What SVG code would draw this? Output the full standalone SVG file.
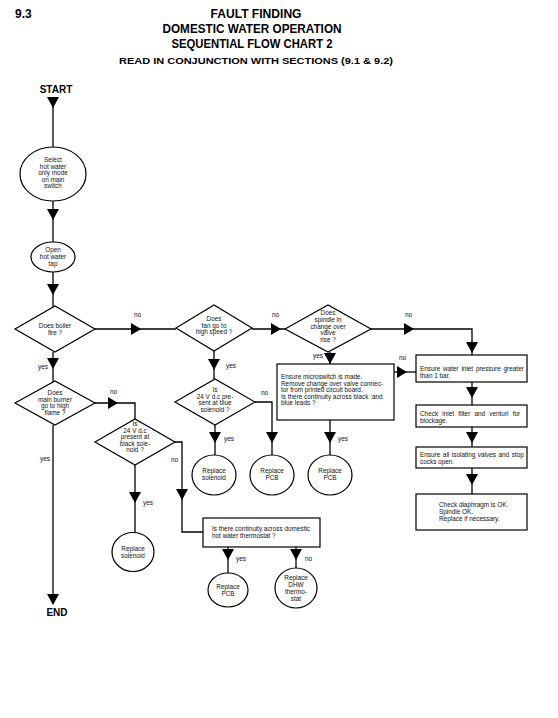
<svg xmlns="http://www.w3.org/2000/svg" width="558" height="718" viewBox="0 0 558 718">
<style>
.sh{fill:#fff;stroke:#000;stroke-width:1.2}
.ln{fill:none;stroke:#000;stroke-width:1.3}
.t{font-family:"Liberation Sans",Arial,sans-serif;font-size:6.4px;fill:#111}
.c{text-anchor:middle}
.lb{font-family:"Liberation Sans",Arial,sans-serif;font-size:6.5px;fill:#111}
.h{font-family:"Liberation Sans",Arial,sans-serif;font-weight:bold;fill:#000}
</style>
<defs>
<path id="ahD" d="M-6,0 L6,0 L0,11 Z" fill="#000"/>
<path id="ahR" d="M0,-6 L0,6 L10,0 Z" fill="#000"/>
</defs>
<rect width="558" height="718" fill="#fff"/>
<g id="title">
<text class="h" x="15" y="18" font-size="12">9.3</text>
<text class="h c" x="256" y="18" font-size="12" textLength="91" lengthAdjust="spacingAndGlyphs">FAULT FINDING</text>
<text class="h c" x="252" y="33" font-size="12" textLength="179" lengthAdjust="spacingAndGlyphs">DOMESTIC WATER OPERATION</text>
<text class="h c" x="252" y="48" font-size="12" textLength="161" lengthAdjust="spacingAndGlyphs">SEQUENTIAL FLOW CHART 2</text>
<text class="h c" x="256" y="64" font-size="9" textLength="274" lengthAdjust="spacingAndGlyphs">READ IN CONJUNCTION WITH SECTIONS (9.1 &amp; 9.2)</text>
</g>
<g id="connectors">
<polyline class="ln" points="53,97 53,147"/><use href="#ahD" x="53" y="97"/>
<polyline class="ln" points="53,201 53,242"/><use href="#ahD" x="53" y="209"/>
<polyline class="ln" points="53,272 53,307"/><use href="#ahD" x="53" y="284"/>
<polyline class="ln" points="53,352 53,382"/><use href="#ahD" x="53" y="358"/>
<text class="lb" x="38" y="369">yes</text>
<polyline class="ln" points="53,425 53,594"/><use href="#ahD" x="53" y="594"/>
<text class="lb" x="40" y="461">yes</text>
<polyline class="ln" points="95,403 135,403 135,419"/><use href="#ahR" x="108" y="403"/>
<text class="lb" x="110" y="394">no</text>
<polyline class="ln" points="135,465 135,533"/><use href="#ahD" x="135" y="492"/>
<text class="lb" x="143" y="505">yes</text>
<polyline class="ln" points="175,442 182,442 182,532 203,532"/><use href="#ahD" x="182" y="489"/>
<text class="lb" x="171" y="462">no</text>
<polyline class="ln" points="95,329 176,329"/><use href="#ahR" x="131" y="329"/>
<text class="lb" x="134" y="317">no</text>
<polyline class="ln" points="252,329 285,329"/><use href="#ahR" x="271" y="329"/>
<text class="lb" x="272" y="317">no</text>
<polyline class="ln" points="371,329 472,329 472,355"/><use href="#ahR" x="404" y="329"/><use href="#ahD" x="472" y="342"/>
<text class="lb" x="405" y="317">no</text>
<polyline class="ln" points="214,350 214,379"/><use href="#ahD" x="214" y="359"/>
<text class="lb" x="226" y="368">yes</text>
<polyline class="ln" points="215,425 215,455"/><use href="#ahD" x="215" y="432"/>
<text class="lb" x="224" y="441">yes</text>
<polyline class="ln" points="255,402 272,402 272,455"/><use href="#ahD" x="272" y="432"/>
<text class="lb" x="261" y="395">no</text>
<polyline class="ln" points="330,352 330,364"/><use href="#ahD" x="330" y="353"/>
<text class="lb" x="313" y="358">yes</text>
<polyline class="ln" points="330,420 330,455"/><use href="#ahD" x="330" y="432"/>
<text class="lb" x="338" y="441">yes</text>
<polyline class="ln" points="394,372 416,372"/><use href="#ahR" x="397" y="372"/>
<text class="lb" x="399" y="360">no</text>
<polyline class="ln" points="472,382 472,405"/><use href="#ahD" x="472" y="387"/>
<polyline class="ln" points="472,427 472,447"/><use href="#ahD" x="472" y="432"/>
<polyline class="ln" points="472,468 472,494"/><use href="#ahD" x="472" y="474"/>
<polyline class="ln" points="228,547 228,573"/><use href="#ahD" x="228" y="549"/>
<text class="lb" x="236" y="561">yes</text>
<polyline class="ln" points="296,547 296,568"/><use href="#ahD" x="296" y="549"/>
<text class="lb" x="305" y="561">no</text>
</g>
<g id="start"><text class="h c" x="56" y="93" font-size="10">START</text></g>
<g id="end"><text class="h c" x="57" y="616" font-size="10">END</text></g>
<g id="select">
<ellipse class="sh" cx="53" cy="174" rx="33" ry="27"/>
<text class="t c" x="53" y="162">Select</text>
<text class="t c" x="53" y="168.5">hot water</text>
<text class="t c" x="53" y="175">only mode</text>
<text class="t c" x="53" y="181.5">on main</text>
<text class="t c" x="53" y="188">switch</text>
</g>
<g id="open">
<ellipse class="sh" cx="53" cy="257" rx="22" ry="15"/>
<text class="t c" x="53" y="252">Open</text>
<text class="t c" x="53" y="259">hot water</text>
<text class="t c" x="53" y="266">tap</text>
</g>
<g id="boiler">
<polygon class="sh" points="15,329 55,306 95,329 55,352"/>
<text class="t c" x="55" y="328">Does boiler</text>
<text class="t c" x="55" y="335">fire ?</text>
</g>
<g id="burner">
<polygon class="sh" points="15,403 55,381 95,403 55,425"/>
<text class="t c" x="55" y="395">Does</text>
<text class="t c" x="55" y="401.5">main burner</text>
<text class="t c" x="55" y="408">go to high</text>
<text class="t c" x="55" y="414.5">flame ?</text>
</g>
<g id="black">
<polygon class="sh" points="95,442 135,419 175,442 135,465"/>
<text class="t c" x="135" y="426">Is</text>
<text class="t c" x="135" y="432.5">24 V d.c</text>
<text class="t c" x="135" y="439">present at</text>
<text class="t c" x="135" y="445.5">black sole-</text>
<text class="t c" x="135" y="452">noid ?</text>
</g>
<g id="replace-sol-black">
<ellipse class="sh" cx="133" cy="552" rx="21" ry="19.5"/>
<text class="t c" x="133" y="551">Replace</text>
<text class="t c" x="133" y="558">solenoid</text>
</g>
<g id="thermostat">
<rect class="sh" x="203" y="518" width="117" height="29"/>
<text class="t" x="212" y="531">Is there continuity across domestic</text>
<text class="t" x="212" y="537.5">hot water thermostat ?</text>
</g>
<g id="replace-pcb3">
<ellipse class="sh" cx="228" cy="590" rx="20" ry="17"/>
<text class="t c" x="228" y="589">Replace</text>
<text class="t c" x="228" y="596">PCB</text>
</g>
<g id="replace-dhw">
<ellipse class="sh" cx="296" cy="588" rx="21" ry="20"/>
<text class="t c" x="296" y="580">Replace</text>
<text class="t c" x="296" y="587">DHW</text>
<text class="t c" x="296" y="594">thermo-</text>
<text class="t c" x="296" y="601">stat</text>
</g>
<g id="fan">
<polygon class="sh" points="176,328 214,305 252,328 214,351"/>
<text class="t c" x="214" y="321">Does</text>
<text class="t c" x="214" y="327.5">fan go to</text>
<text class="t c" x="214" y="334">high speed ?</text>
</g>
<g id="blue">
<polygon class="sh" points="175,402 215,379 255,402 215,425"/>
<text class="t c" x="215" y="392">Is</text>
<text class="t c" x="215" y="398.5">24 V d.c pre-</text>
<text class="t c" x="215" y="405">sent at blue</text>
<text class="t c" x="215" y="411.5">solenoid ?</text>
</g>
<g id="replace-sol-blue">
<ellipse class="sh" cx="214" cy="475" rx="22" ry="20"/>
<text class="t c" x="214" y="473">Replace</text>
<text class="t c" x="214" y="480">solenoid</text>
</g>
<g id="replace-pcb1">
<ellipse class="sh" cx="272" cy="475" rx="22" ry="20"/>
<text class="t c" x="272" y="473">Replace</text>
<text class="t c" x="272" y="480">PCB</text>
</g>
<g id="replace-pcb2">
<ellipse class="sh" cx="330" cy="475" rx="22" ry="20"/>
<text class="t c" x="330" y="473">Replace</text>
<text class="t c" x="330" y="480">PCB</text>
</g>
<g id="spindle">
<polygon class="sh" points="285,329 328,305 371,329 328,352"/>
<text class="t c" x="328" y="315">Does</text>
<text class="t c" x="328" y="321.5">spindle in</text>
<text class="t c" x="328" y="328.5">change over</text>
<text class="t c" x="328" y="335">valve</text>
<text class="t c" x="328" y="342">rise ?</text>
</g>
<g id="microswitch">
<rect class="sh" x="277" y="364" width="117" height="56"/>
<text class="t" x="281" y="379">Ensure microswitch is made.</text>
<text class="t" x="281" y="385.5">Remove change over valve connec-</text>
<text class="t" x="281" y="392">tor from printed circuit board.</text>
<text class="t" x="281" y="398.5">Is there continuity across black :and</text>
<text class="t" x="281" y="405">blue leads ?</text>
</g>
<g id="pressure">
<rect class="sh" x="416" y="355" width="111" height="27"/>
<text class="t" x="420" y="371" word-spacing="1">Ensure water inlet pressure greater</text>
<text class="t" x="420" y="378">than 1 bar.</text>
</g>
<g id="filter">
<rect class="sh" x="416" y="405" width="111" height="22"/>
<text class="t" x="420" y="416" word-spacing="2.4">Check inlet filter and venturi for</text>
<text class="t" x="420" y="423">blockage.</text>
</g>
<g id="valves">
<rect class="sh" x="416" y="447" width="111" height="21"/>
<text class="t" x="420" y="457" word-spacing="0.8">Ensure all isolating valves and stop</text>
<text class="t" x="420" y="464">cocks open.</text>
</g>
<g id="diaphragm">
<rect class="sh" x="416" y="494" width="111" height="36"/>
<text class="t" x="439" y="507">Check diaphragm is OK.</text>
<text class="t" x="439" y="514">Spindle OK.</text>
<text class="t" x="439" y="521">Replace if necessary.</text>
</g>
</svg>
